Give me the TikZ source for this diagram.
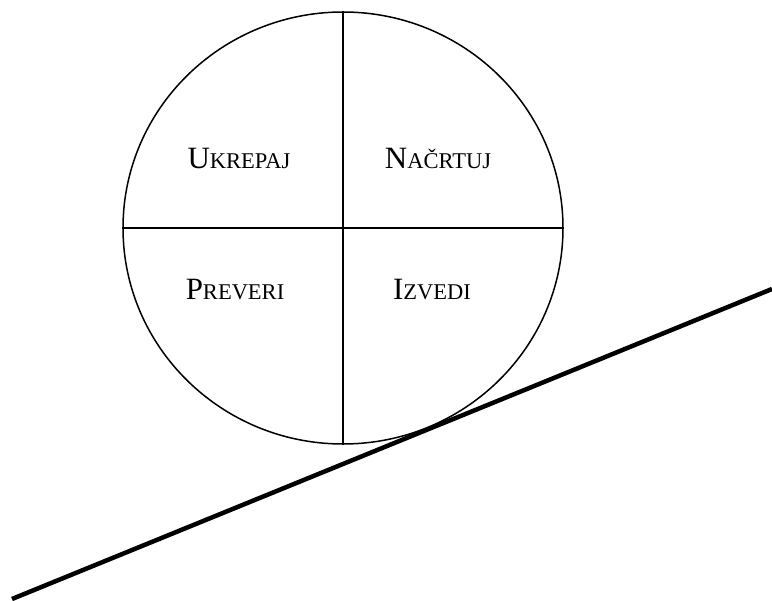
\documentclass[tikz,border=0pt]{standalone}
\usepackage{fontspec}
\setmainfont{Liberation Serif}
\usetikzlibrary{shapes.geometric}
\newcommand{\capsmall}[2]{{\fontsize{31}{31}\selectfont #1}{\fontsize{22.5}{22.5}\selectfont #2}}

\begin{document}
\begin{tikzpicture}[x=1pt, y=-1pt,
    wheelshape/.style={draw, ellipse, line width=1.5pt, inner sep=0pt,
      minimum width=440pt, minimum height=432pt},
    lbl/.style={inner sep=0pt, anchor=base},
    slope/.style={line width=4.5pt}]
  \useasboundingbox (0,0) rectangle (772,601);
  \node[wheelshape] (wheel) at (343,228) {};
  \draw[line width=1.5pt] (wheel.north) -- (wheel.south);
  \draw[line width=1.5pt] (wheel.west) -- (wheel.east);
  \node[lbl] (act) at (239,169) {\capsmall{U}{KREPAJ}};
  \node[lbl] (plan) at (438,169) {\capsmall{N}{AČRTUJ}};
  \node[lbl] (check) at (235,300) {\capsmall{P}{REVERI}};
  \node[lbl] (do) at (432,300) {\capsmall{I}{ZVEDI}};
  \coordinate (base) at (12,599);
  \coordinate (top) at (772,289);
  \draw[slope] (base) -- (top);
\end{tikzpicture}
\end{document}
